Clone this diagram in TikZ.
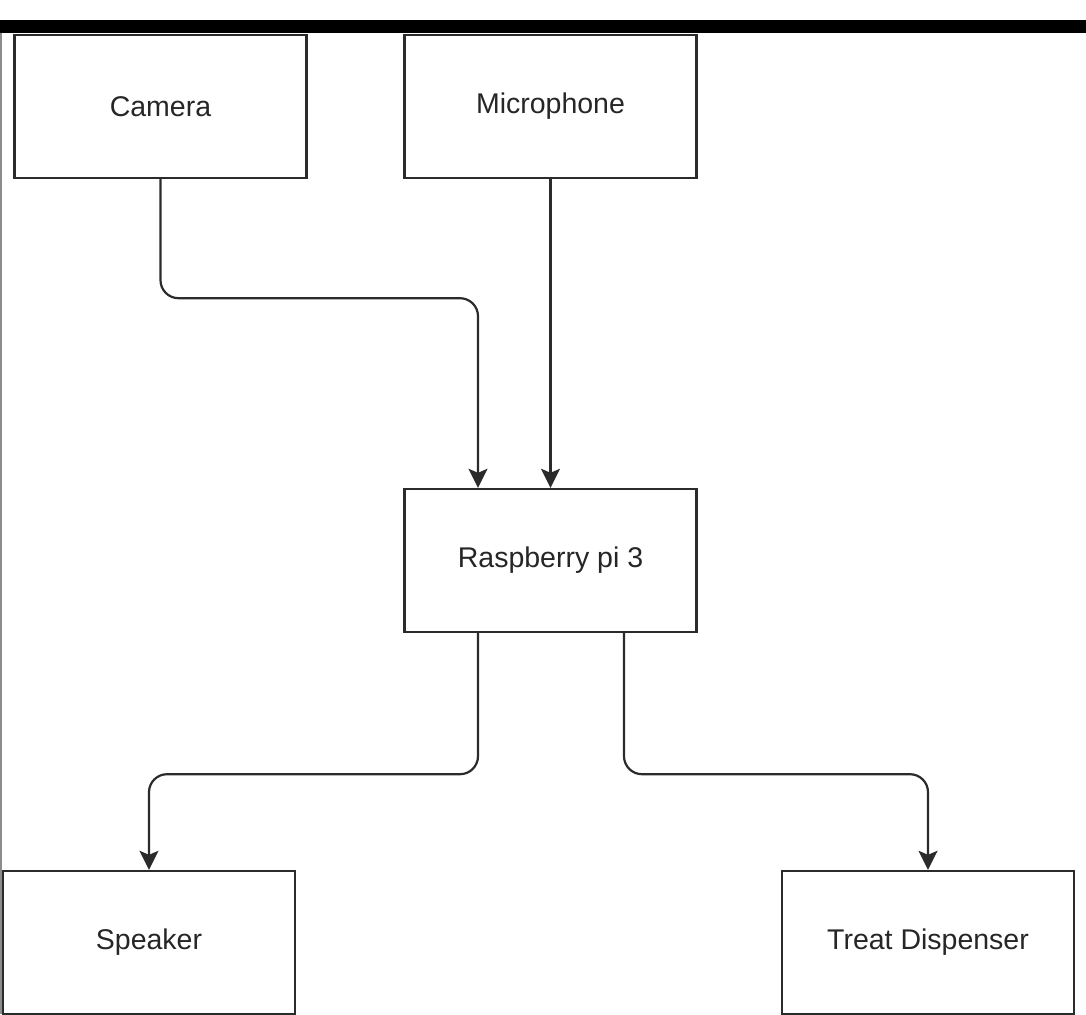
\documentclass[tikz,border=0pt]{standalone}
\usepackage{fontspec}
\setmainfont{Liberation Sans}
\usetikzlibrary{arrows.meta}
\definecolor{ln}{HTML}{2B2B2B}
\tikzset{
  box/.style={draw=ln, line width=2.4pt, rectangle, minimum width=292pt, minimum height=143pt, inner sep=0pt, font=\fontsize{28.5}{34}\selectfont, text=black!85},
  arr/.style={draw=ln, line width=2.2pt, rounded corners=18pt, -{Stealth[length=19pt,width=19pt,inset=4pt]}}
}
\begin{document}
\begin{tikzpicture}[x=1pt,y=-1pt]
\useasboundingbox (0,0) rectangle (1086,1014);
\fill[white] (0,0) rectangle (1086,20);
\fill[black] (0,20) rectangle (1086,33);
\fill[black!45] (0,33) rectangle (2,1014);
\begin{scope}
\clip (0,33) rectangle (1086,1014);
\node[box] (cam) at (160.5,106.5) {Camera};
\node[box] (mic) at (550.5,106.5) {Microphone};
\node[box] (rpi) at (550.5,560.5) {Raspberry pi 3};
\node[box] (spk) at (149,942.5) {Speaker};
\node[box] (trt) at (928,942.5) {Treat Dispenser};
\coordinate (rin) at ([xshift=-72.5]rpi.north);
\coordinate (rl) at ([xshift=-72.5]rpi.south);
\coordinate (rr) at ([xshift=73.5]rpi.south);
\draw[arr] (cam.south) -- ++(0,119) -| (rin);
\draw[arr] (mic.south) -- (rpi.north);
\draw[arr] (rl) -- ++(0,141) -| (spk.north);
\draw[arr] (rr) -- ++(0,141) -| (trt.north);
\end{scope}
\end{tikzpicture}
\end{document}
